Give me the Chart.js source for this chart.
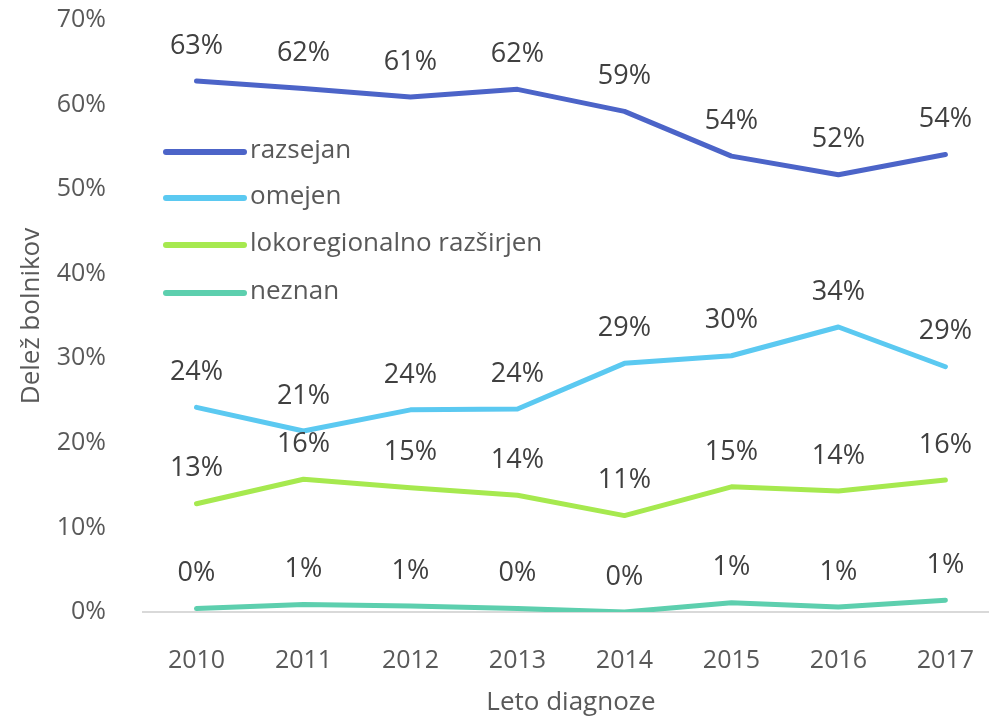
<!DOCTYPE html>
<html>
<head>
<meta charset="utf-8">
<script src="https://cdn.jsdelivr.net/npm/chart.js@4.4.0/dist/chart.umd.min.js"></script>
<style>
  html,body{margin:0;padding:0;background:#fff;overflow:hidden;}
  #wrap{width:1000px;height:718px;overflow:hidden;position:relative;}
  #c{position:absolute;left:0;top:-24px;}
</style>
</head>
<body>
<div id="wrap"><canvas id="c" width="1000" height="742"></canvas></div>
<script>
const categories = ["2010","2011","2012","2013","2014","2015","2016","2017"];
const seriesNames = ["razsejan","omejen","lokoregionalno razširjen","neznan"];
const razsejan = [62.8, 61.9, 60.9, 61.8, 59.2, 53.9, 51.7, 54.1];
const omejen = [24.2, 21.4, 23.9, 24.0, 29.4, 30.3, 33.7, 29.0];
const lokoregionalno = [12.8, 15.7, 14.7, 13.8, 11.4, 14.8, 14.3, 15.6];
const neznan = [0.4, 0.9, 0.7, 0.4, 0.0, 1.1, 0.6, 1.4];
const yTicks = [0,10,20,30,40,50,60,70];
const colors = ["#4C64C8","#5BC9F1","#A6E94F","#5DCFAE"];

const FONT = "'Open Sans', 'DejaVu Sans', sans-serif";

const labelPlugin = {
  id: 'valueLabels',
  afterDatasetsDraw(chart) {
    const ctx = chart.ctx;
    ctx.save();
    ctx.font = "27px " + FONT;
    ctx.fillStyle = "#404040";
    ctx.textAlign = "center";
    ctx.textBaseline = "middle";
    chart.data.datasets.forEach((ds, i) => {
      const meta = chart.getDatasetMeta(i);
      meta.data.forEach((pt, j) => {
        ctx.fillText(Math.round(ds.data[j]) + "%", pt.x, pt.y - 35);
      });
    });
    ctx.restore();
  }
};

const legendPlugin = {
  id: 'innerLegend',
  afterDraw(chart) {
    const ctx = chart.ctx;
    const rows = [176, 222, 269, 317];
    ctx.save();
    ctx.font = "26px " + FONT;
    ctx.textBaseline = "middle";
    ctx.textAlign = "left";
    chart.data.datasets.forEach((ds, i) => {
      const y = rows[i];
      ctx.strokeStyle = ds.borderColor;
      ctx.lineWidth = 6;
      ctx.lineCap = "round";
      ctx.beginPath();
      ctx.moveTo(166, y);
      ctx.lineTo(244, y);
      ctx.stroke();
      ctx.fillStyle = "#595959";
      ctx.fillText(ds.label, 250, y - 1);
    });
    ctx.restore();
  }
};

const seriesData = [razsejan, omejen, lokoregionalno, neznan];

new Chart(document.getElementById('c'), {
  type: 'line',
  data: {
    labels: categories,
    datasets: seriesData.map((d, i) => ({
      label: seriesNames[i],
      data: d,
      borderColor: colors[i],
      backgroundColor: colors[i],
      borderWidth: 5,
      pointRadius: 0,
      tension: 0,
      borderCapStyle: 'round',
      borderJoinStyle: 'round',
      fill: false
    }))
  },
  options: {
    responsive: false,
    animation: false,
    layout: { padding: { top: 0, right: 0, left: 0, bottom: 0 } },
    plugins: { legend: { display: false }, tooltip: { enabled: false }, title: { display: false } },
    scales: {
      x: {
        offset: true,
        grid: { display: false },
        border: { display: true, color: '#D9D9D9', width: 2 },
        ticks: { color: '#595959', font: { family: FONT, size: 25 }, padding: 26 },
        title: { display: true, text: 'Leto diagnoze', color: '#595959', font: { family: FONT, size: 26 }, padding: { top: 0, bottom: 0 } },
        afterFit(s) { s.height = 106; }
      },
      y: {
        min: 0, max: 70,
        afterBuildTicks(s) { s.ticks = yTicks.map(v => ({ value: v })); },
        grid: { display: false },
        border: { display: false },
        ticks: { color: '#595959', font: { family: FONT, size: 25 }, padding: 29, callback: v => v + '%' },
        title: { display: true, text: 'Delež bolnikov', color: '#595959', font: { family: FONT, size: 26 }, padding: { top: 16, bottom: 0 } },
        afterFit(s) { s.width = 143; }
      }
    }
  },
  plugins: [labelPlugin, legendPlugin]
});
</script>
</body>
</html>
